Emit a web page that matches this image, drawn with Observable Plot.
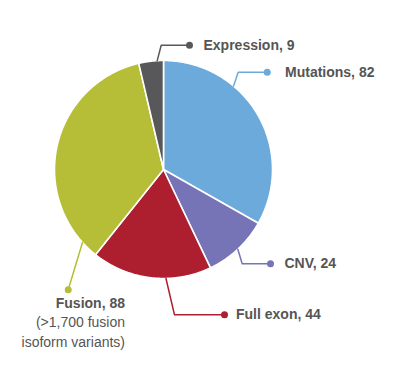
<!DOCTYPE html>
<html>
<head>
<meta charset="utf-8">
<script src="https://cdn.jsdelivr.net/npm/d3@7"></script>
<script src="https://cdn.jsdelivr.net/npm/@observablehq/plot@0.6"></script>
<style>
  html, body { margin: 0; padding: 0; background: #fff; }
  #chart { width: 397px; height: 367px; }
</style>
</head>
<body>
<div id="chart"></div>
<script>
// ---- data ----
const categories = ["Mutations", "CNV", "Full exon", "Fusion", "Expression"];
const values = [82, 24, 44, 88, 9];
const colors = ["#6CAADC", "#7674B6", "#AD1E2F", "#B5BE36", "#58585A"];
const labelTitles = ["Mutations, 82", "CNV, 24", "Full exon, 44", "Fusion, 88", "Expression, 9"];
const labelNotes = [[], [], [], ["(>1,700 fusion", "isoform variants)"], []];

// ---- layout (annotation geometry, px units in the chart's own coordinate space) ----
const W = 397, H = 367;
const cx = 163, cy = 169, R = 109;
const leader = [
  {angle: 40,    elbow: [237.7, 71.7],  dot: [266.7, 71.7],  text: [284.5, 72],  anchor: "start"},
  {angle: 137,   elbow: [241.7, 263.3], dot: [270, 263.3],   text: [284, 263.5], anchor: "start"},
  {angle: 178.7, elbow: [174, 314.3],   dot: [224, 314.3],   text: [235.5, 314.5], anchor: "start"},
  {angle: 228,   elbow: null,           dot: [67.7, 289.3],  text: [124.5, 303.3], anchor: "end"},
  {angle: -3.3,  elbow: [160.7, 44.7],  dot: [189, 44.7],    text: [203, 45],  anchor: "start"}
];

const rad = d => d * Math.PI / 180;
const onArc = (deg, r = R) => [cx + r * Math.sin(rad(deg)), cy - r * Math.cos(rad(deg))];

// slices via d3.pie (clockwise from 12 o'clock, data order)
const arcs = d3.pie().sort(null).value(d => d)(values);
const slicePts = [];
arcs.forEach((a, i) => {
  const name = categories[i];
  slicePts.push({name, x: cx, y: cy});
  const n = Math.max(2, Math.ceil((a.endAngle - a.startAngle) / rad(0.5)));
  for (let k = 0; k <= n; k++) {
    const t = a.startAngle + (a.endAngle - a.startAngle) * k / n;
    slicePts.push({name, x: cx + R * Math.sin(t), y: cy - R * Math.cos(t)});
  }
  slicePts.push({name, x: cx, y: cy});
});

// leader lines
const leaderPts = [];
const dots = [];
const titles = [];
const notes = [];
leader.forEach((L, i) => {
  const name = categories[i];
  const p0 = onArc(L.angle);
  leaderPts.push({name, x: p0[0], y: p0[1]});
  if (L.elbow) leaderPts.push({name, x: L.elbow[0], y: L.elbow[1]});
  leaderPts.push({name, x: L.dot[0], y: L.dot[1]});
  dots.push({name, x: L.dot[0], y: L.dot[1]});
  titles.push({label: labelTitles[i], x: L.text[0], y: L.text[1], anchor: L.anchor});
  labelNotes[i].forEach((t, j) => notes.push({label: t, x: L.text[0], y: L.text[1] + 19.2 * (j + 1), anchor: L.anchor}));
});

const chart = Plot.plot({
  width: W,
  height: H,
  margin: 0,
  style: {fontFamily: "'Liberation Sans', Arial, sans-serif", background: "#fff"},
  x: {domain: [0, W], range: [0, W], axis: null},
  y: {domain: [0, H], range: [0, H], axis: null},
  color: {domain: categories, range: colors},
  marks: [
    Plot.line(slicePts, {x: "x", y: "y", z: "name", fill: "name", stroke: "#fff", strokeWidth: 1.6, strokeLinejoin: "round"}),
    Plot.line(leaderPts, {x: "x", y: "y", z: "name", stroke: "name", strokeWidth: 1.5}),
    Plot.dot(dots, {x: "x", y: "y", fill: "name", r: 3.5}),
    Plot.text(titles.filter(d => d.anchor === "start"), {x: "x", y: "y", text: "label", textAnchor: "start", fontWeight: "bold", fontSize: 14, fill: "#555"}),
    Plot.text(titles.filter(d => d.anchor === "end"), {x: "x", y: "y", text: "label", textAnchor: "end", fontWeight: "bold", fontSize: 14, fill: "#555"}),
    Plot.text(notes, {x: "x", y: "y", text: "label", textAnchor: "end", fontSize: 14, fill: "#555"})
  ]
});
document.getElementById("chart").appendChild(chart);
</script>
</body>
</html>
